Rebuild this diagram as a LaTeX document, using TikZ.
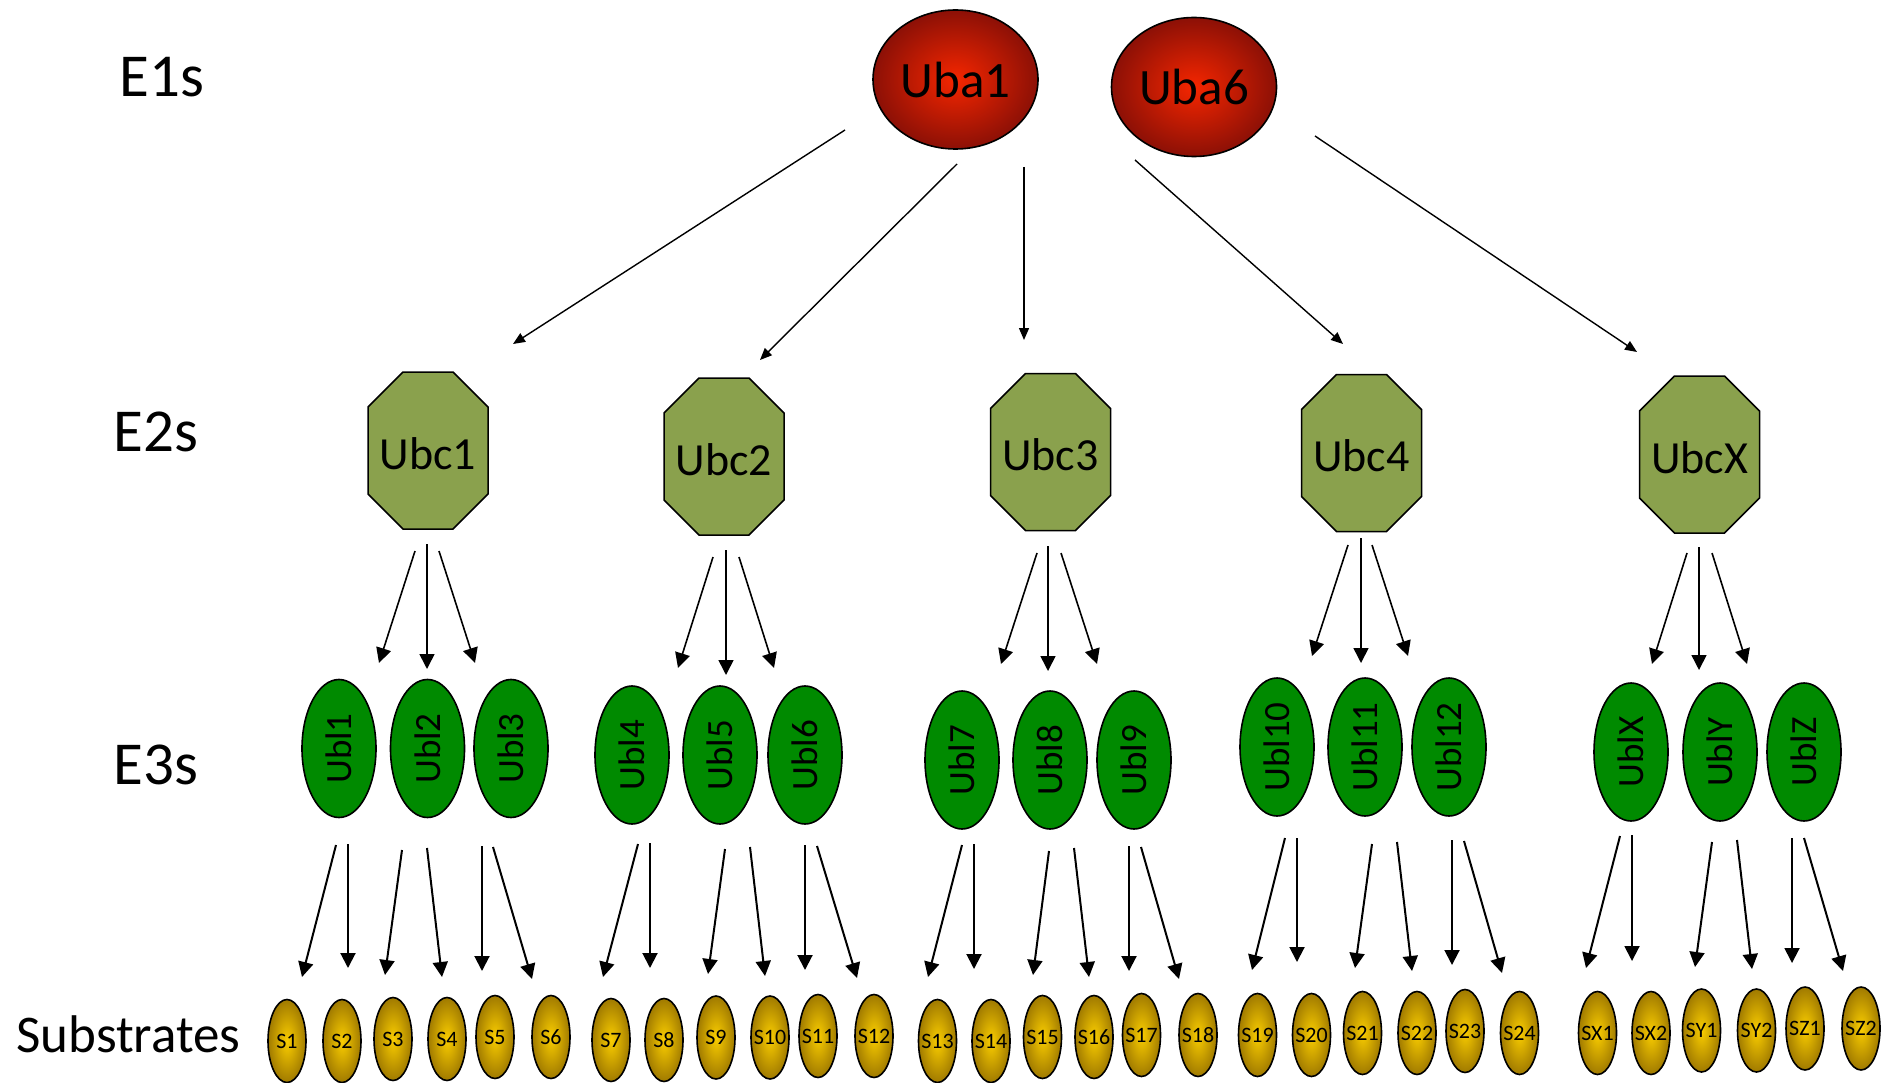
\documentclass[tikz,border=0pt]{standalone}
\usepackage{fontspec}
\setmainfont{Carlito}
\usetikzlibrary{shapes.geometric,arrows.meta}
\definecolor{eonein}{RGB}{245,38,0}
\definecolor{eoneout}{RGB}{140,16,6}
\definecolor{etwo}{RGB}{138,161,77}
\definecolor{ethree}{RGB}{0,138,0}
\definecolor{subin}{RGB}{250,205,0}
\definecolor{subout}{RGB}{160,122,0}
\begin{document}
\begin{tikzpicture}[x=1pt,y=-1pt,
  rowlabel/.style={inner sep=0pt, font=\fontsize{61}{61}\selectfont},
  eone/.style={ellipse, draw=black, line width=1.6pt, inner color=eonein, outer color=eoneout,
    minimum width=165pt, minimum height=139pt, inner sep=0pt, font=\fontsize{51}{51}\selectfont},
  etwoshape/.style={fill=etwo, draw=black, line width=1.5pt, line join=miter},
  etwon/.style={rectangle, inner sep=0pt, font=\fontsize{46}{46}\selectfont},
  ethreen/.style={ellipse, draw=black, line width=1.6pt, fill=ethree, rotate=90,
    minimum width=138pt, minimum height=74pt, inner sep=0pt, font=\fontsize{37}{37}\selectfont},
  subn/.style={ellipse, draw=black, line width=1.6pt, inner color=subin, outer color=subout,
    minimum width=38pt, minimum height=83pt, inner sep=0pt, font=\fontsize{22}{22}\selectfont},
  arrone/.style={line width=1.4pt, -{Triangle[length=12pt,width=10pt]}},
  arrtwo/.style={line width=1.6pt, -{Triangle[length=15pt,width=15pt]}},
  arrthree/.style={line width=2pt, -{Triangle[length=15pt,width=15pt]}}
]
\useasboundingbox (0,0) rectangle (1892,1083);

% row labels
\node[rowlabel] (le1) at (162,77) {E1s};
\node[rowlabel] (le2) at (156,432) {E2s};
\node[rowlabel] (le3) at (156,765) {E3s};
\node[rowlabel, font=\fontsize{53}{53}\selectfont] (lsub) at (128.5,1034) {Substrates};

% E1
\node[eone] (uba1) at (955.5,79.5) {Uba1};
\node[eone] (uba6) at (1194,87) {Uba6};

% E2 octagons
\foreach \n/\x/\y/\t in {ubc1/428/450.5/Ubc1, ubc2/724/456.5/Ubc2, ubc3/1050.5/452/Ubc3,
    ubc4/1361.5/453/Ubc4, ubcx/1699.5/454.5/UbcX} {
  \filldraw[etwoshape] (\x-25,\y-78.5) -- (\x+25,\y-78.5) -- (\x+60,\y-43.5) -- (\x+60,\y+43.5)
    -- (\x+25,\y+78.5) -- (\x-25,\y+78.5) -- (\x-60,\y+43.5) -- (\x-60,\y-43.5) -- cycle;
  \node[etwon] (\n) at (\x,\y+3) {\t};
}

% E3
\foreach \n/\x/\y in {1/339/748.5, 2/427.5/748.5, 3/511/748.5,
    4/632/755, 5/720/755, 6/805/755,
    7/962/760, 8/1050/760, 9/1134/760,
    10/1277/747, 11/1365/747, 12/1449/747} {
  \node[ethreen] (ubl\n) at (\x,\y) {Ubl\n};
}
\foreach \n/\x/\y in {X/1631/752, Y/1720/752, Z/1804/752} {
  \node[ethreen] (ubl\n) at (\x,\y) {Ubl\n};
}

% Substrates
\foreach \n/\x/\y in {1/287/1041, 2/342/1041, 3/393/1039, 4/447/1039, 5/495/1037, 6/551/1037,
    7/611/1040, 8/664/1040, 9/716/1037.5, 10/770/1037.5, 11/818/1036, 12/874/1036,
    13/937.5/1041, 14/991/1041, 15/1042.5/1037, 16/1094/1037, 17/1141.5/1035, 18/1198/1035,
    19/1257.5/1035, 20/1311.5/1035, 21/1362.5/1033, 22/1417/1033, 23/1465/1031, 24/1519.5/1033,
    X1/1597.5/1033, X2/1651/1033, Y1/1701.5/1030.5, Y2/1756.5/1030.5, Z1/1805/1028.5, Z2/1861/1028.5} {
  \node[subn] (s\n) at (\x,\y) {\makebox[0pt]{S\n}};
}

% E1 -> E2 arrows
\foreach \i/\a/\b/\c/\d in {1/845/130/513/344, 2/957/164/760/360, 3/1024/167/1024/340,
    4/1135/160/1343/344, 5/1315/136/1637/352} {
  \coordinate (pa\i) at (\a,\b);
  \coordinate (pb\i) at (\c,\d);
  \draw[arrone] (pa\i) -- (pb\i);
}

% E2 -> E3 arrows
\foreach \i/\a/\b/\c/\d in {1/415/551/379/663, 2/427/544/427/669, 3/439/551/475/663,
    4/713/557/678/668, 5/726/550/726/675, 6/739/557/774/668,
    7/1037/553/1001/664, 8/1048/546/1048/671, 9/1061/553/1097/664,
    10/1348/545/1312/656, 11/1361/538/1361/663, 12/1372/545/1408/656,
    13/1687/553/1652/664, 14/1699/547/1699/670, 15/1712/553/1747/664} {
  \coordinate (qa\i) at (\a,\b);
  \coordinate (qb\i) at (\c,\d);
  \draw[arrtwo] (qa\i) -- (qb\i);
}

% E3 -> substrate arrows
\foreach \i/\a/\b/\c/\d in {1/336/845/302/977, 2/348/844/348/968, 3/402/850/385/975,
    4/427/848/442/977, 5/482/846/482/971, 6/493/847/532/979,
    7/638/844/603/977, 8/650/843/650/968, 9/725/849/708/974,
    10/750/847/765/976, 11/805/845/805/970, 12/817/846/857/978,
    13/962/845/928/977, 14/974/844/974/969, 15/1049/851/1033/975,
    16/1074/848/1089/977, 17/1129/846/1129/971, 18/1141/847/1179/979,
    19/1285/838/1252/970, 20/1297/838/1297/962, 21/1372/844/1355/968,
    22/1397/842/1412/971, 23/1452/840/1452/965, 24/1464/841/1502/973,
    25/1620/836/1586/968, 26/1632/835/1632/961, 27/1712/842/1695/967,
    28/1737/840/1752/969, 29/1792/838/1792/963, 30/1804/838/1843/971} {
  \coordinate (ra\i) at (\a,\b);
  \coordinate (rb\i) at (\c,\d);
  \draw[arrthree] (ra\i) -- (rb\i);
}
\end{tikzpicture}
\end{document}
